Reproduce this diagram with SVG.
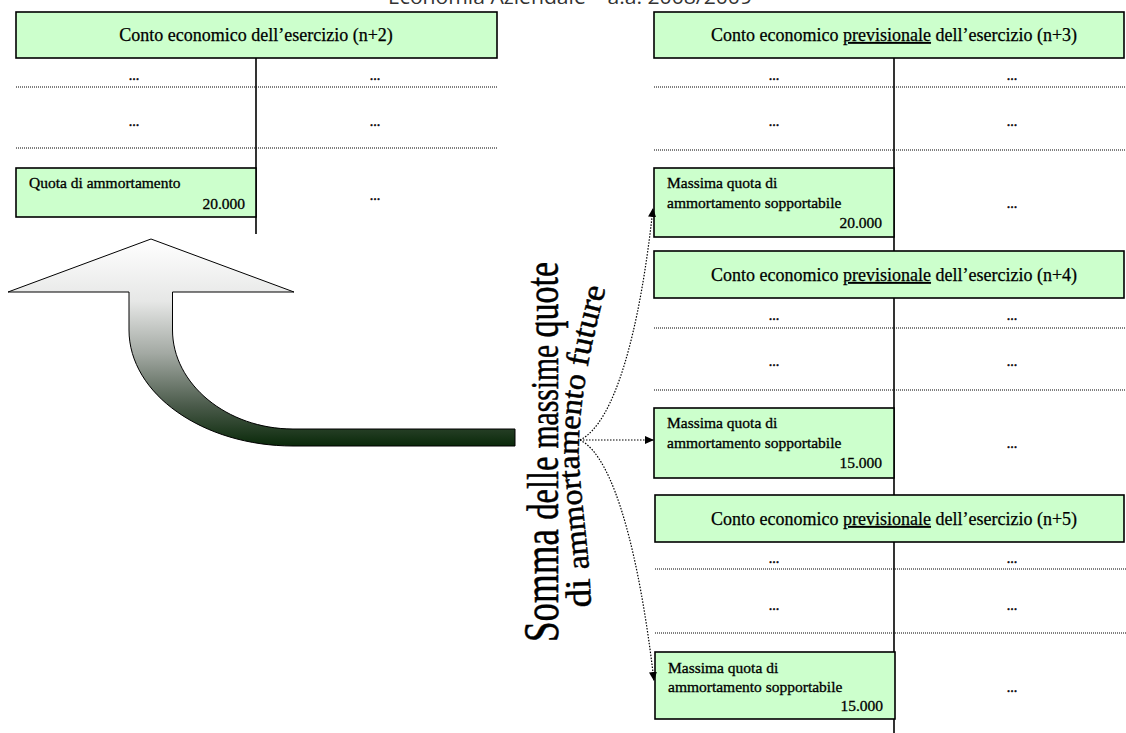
<svg xmlns="http://www.w3.org/2000/svg" width="1126" height="733" viewBox="0 0 1126 733">
<defs>
<style>
.box{fill:#ccffcc;stroke:#000;stroke-width:1.6}
.vl{stroke:#000;stroke-width:1.6;fill:none}
.dl{stroke:#000;stroke-width:1;stroke-dasharray:1 1;fill:none}
.hd{font-family:"Liberation Serif",serif;font-size:18px;fill:#000;stroke:#000;stroke-width:0.25;text-anchor:middle}
.t{font-family:"Liberation Serif",serif;font-size:15.5px;fill:#000;stroke:#000;stroke-width:0.3}
.r{text-anchor:end}
.dots{font-family:"Liberation Serif",serif;font-size:14px;fill:#000;stroke:#000;stroke-width:0.4;text-anchor:middle}
.con{stroke:#000;stroke-width:1.2;stroke-dasharray:1.5 1.5;fill:none}
.big{font-family:"Liberation Serif",serif;fill:#000;stroke:#000;stroke-width:0.5}
</style>
<linearGradient id="ag" gradientUnits="userSpaceOnUse" x1="0" y1="239" x2="0" y2="447">
<stop offset="0" stop-color="#ffffff"/>
<stop offset="0.3" stop-color="#e6e7e6"/>
<stop offset="0.55" stop-color="#a3a9a3"/>
<stop offset="0.8" stop-color="#4b5b4b"/>
<stop offset="1" stop-color="#082808"/>
</linearGradient>
<marker id="ah" markerUnits="userSpaceOnUse" markerWidth="10" markerHeight="10" refX="9" refY="4" orient="auto">
<path d="M0,0 L9,4 L0,8 z" fill="#000"/>
</marker>
<path id="l2" d="M591,607 C589,540 577,480 579,440 C581,380 598,320 607,283"/>
</defs>
<rect width="1126" height="733" fill="#fff"/>
<text x="570" y="4" font-family="'Open Sans','Liberation Sans',sans-serif" font-size="20" fill="#333" text-anchor="middle" textLength="364" lengthAdjust="spacingAndGlyphs">Economia Aziendale – a.a. 2008/2009</text>

<g id="ce-n2">
<line class="vl" x1="256" y1="58" x2="256" y2="234"/>
<rect class="box" x="16" y="12" width="481" height="46"/>
<text class="hd" x="256" y="41">Conto economico dell’esercizio (n+2)</text>
<text class="dots" x="134" y="80">...</text>
<text class="dots" x="375" y="80">...</text>
<line class="dl" x1="16" y1="87" x2="497" y2="87"/>
<text class="dots" x="134" y="126">...</text>
<text class="dots" x="375" y="126">...</text>
<line class="dl" x1="16" y1="148" x2="497" y2="148"/>
<rect class="box" x="16" y="168" width="240" height="49"/>
<text class="t" x="29" y="188" font-size="16">Quota di ammortamento</text>
<text class="t r" x="245" y="209" font-size="16">20.000</text>
<text class="dots" x="375" y="200">...</text>
</g>

<g id="ce-n3">
<line class="vl" x1="894" y1="58" x2="894" y2="733"/>
<rect class="box" x="654" y="12" width="470" height="46"/>
<text class="hd" x="894" y="41">Conto economico <tspan text-decoration="underline">previsionale</tspan> dell’esercizio (n+3)</text>
<text class="dots" x="774" y="80">...</text>
<text class="dots" x="1012" y="80">...</text>
<line class="dl" x1="654" y1="87" x2="1126" y2="87"/>
<text class="dots" x="774" y="126">...</text>
<text class="dots" x="1012" y="126">...</text>
<line class="dl" x1="654" y1="150" x2="1126" y2="150"/>
<rect class="box" x="654" y="168" width="240" height="69"/>
<text class="t" x="667" y="188">Massima quota di</text>
<text class="t" x="667" y="208">ammortamento sopportabile</text>
<text class="t r" x="882" y="228">20.000</text>
<text class="dots" x="1012" y="208">...</text>
</g>

<g id="ce-n4">
<rect class="box" x="654" y="251" width="470" height="47"/>
<text class="hd" x="894" y="281">Conto economico <tspan text-decoration="underline">previsionale</tspan> dell’esercizio (n+4)</text>
<text class="dots" x="774" y="320">...</text>
<text class="dots" x="1012" y="320">...</text>
<line class="dl" x1="654" y1="328" x2="1126" y2="328"/>
<text class="dots" x="774" y="366">...</text>
<text class="dots" x="1012" y="366">...</text>
<line class="dl" x1="654" y1="390" x2="1126" y2="390"/>
<rect class="box" x="654" y="408" width="240" height="70"/>
<text class="t" x="667" y="428">Massima quota di</text>
<text class="t" x="667" y="448">ammortamento sopportabile</text>
<text class="t r" x="882" y="468">15.000</text>
<text class="dots" x="1012" y="448">...</text>
</g>

<g id="ce-n5">
<rect class="box" x="655" y="495" width="469" height="47"/>
<text class="hd" x="894" y="525">Conto economico <tspan text-decoration="underline">previsionale</tspan> dell’esercizio (n+5)</text>
<text class="dots" x="774" y="563">...</text>
<text class="dots" x="1012" y="563">...</text>
<line class="dl" x1="655" y1="569" x2="1126" y2="569"/>
<text class="dots" x="774" y="610">...</text>
<text class="dots" x="1012" y="610">...</text>
<line class="dl" x1="655" y1="633" x2="1126" y2="633"/>
<rect class="box" x="655" y="652" width="240" height="67"/>
<text class="t" x="668" y="673">Massima quota di</text>
<text class="t" x="668" y="692">ammortamento sopportabile</text>
<text class="t r" x="883" y="711">15.000</text>
<text class="dots" x="1012" y="692">...</text>
</g>

<g id="big-arrow">
<path d="M151,239 L294,292 L172.5,292 L172.5,330 C172.5,384 227,429 293,429 L515,429 L515,446 L293,446 C203,446 129,394 129,330 L129,292 L8,292 Z" fill="url(#ag)" stroke="#000" stroke-width="1"/>
</g>

<g id="label">
<text class="big" transform="translate(558,642) rotate(-90)" textLength="380" lengthAdjust="spacingAndGlyphs"><tspan font-size="50">Somma </tspan><tspan font-size="44">delle </tspan><tspan font-size="40">massime </tspan><tspan font-size="46">quote</tspan></text>
<text class="big"><textPath href="#l2" textLength="322" lengthAdjust="spacingAndGlyphs"><tspan font-size="36">di </tspan><tspan font-size="31">ammortamento </tspan><tspan font-size="33">future</tspan></textPath></text>
</g>

<g id="connectors">
<path class="con" d="M580,440 C615,423 640,330 653,208" marker-end="url(#ah)"/>
<path class="con" d="M580,440 L654,440" marker-end="url(#ah)"/>
<path class="con" d="M580,440 C615,457 640,560 654,681" marker-end="url(#ah)"/>
</g>
</svg>
